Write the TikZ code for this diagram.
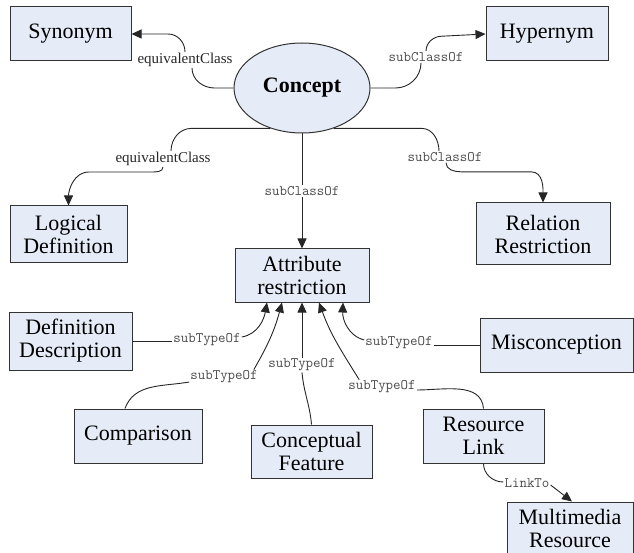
\documentclass[tikz,border=0pt]{standalone}
\usepackage{fontspec}
\setmainfont{Liberation Serif}
\usetikzlibrary{shapes.geometric,arrows.meta}
\definecolor{boxfill}{HTML}{E6ECF7}
\definecolor{boxline}{HTML}{333333}
\definecolor{lblgray}{HTML}{4A4A4A}

\begin{document}
\begin{tikzpicture}[x=1pt,y=1pt,
  box/.style={draw=boxline, line width=1pt, fill=boxfill, align=center,
    inner sep=0pt, font=\fontsize{22}{23}\selectfont},
  rel/.style={font=\ttfamily\fontsize{14.5}{14.5}\selectfont, text=lblgray, inner sep=1pt},
  relserif/.style={font=\fontsize{15}{15}\selectfont, text=black!85, inner sep=1pt},
  link/.style={draw=black!85, line width=0.9pt},
  tip/.style={-{Triangle[length=10pt,width=9pt]}},
]
\useasboundingbox (0,0) rectangle (634,-553);
\begin{scope}
\clip (0,0) rectangle (634,-553);

% concept and its related classes
\node[ellipse, draw=boxline, fill=boxfill, line width=1pt, minimum width=136pt,
  minimum height=90pt, inner sep=0pt, font=\bfseries\fontsize{22}{23}\selectfont]
  (concept) at (302,-88) {Concept};
\node[box, minimum width=121pt, minimum height=54pt] (syn) at (70.5,-34) {Synonym};
\node[box, minimum width=122pt, minimum height=54pt] (hyp) at (547,-34) {Hypernym};
\node[box, minimum width=117pt, minimum height=57pt] (logdef) at (68.5,-234.5) {Logical\\Definition};
\node[box, minimum width=134pt, minimum height=62pt] (relres) at (543,-234) {Relation\\Restriction};
\node[box, minimum width=134pt, minimum height=53pt] (attr) at (302,-275.5) {Attribute\\restriction};

% attribute subtypes
\node[box, minimum width=123pt, minimum height=58pt] (defdesc) at (70.5,-341) {Definition\\Description};
\node[box, minimum width=128pt, minimum height=54pt] (comp) at (138,-436) {Comparison};
\node[box, minimum width=121pt, minimum height=53pt] (concfeat) at (311.5,-451.5) {Conceptual\\Feature};
\node[box, minimum width=153pt, minimum height=54pt] (miscon) at (556.5,-345) {Misconception};
\node[box, minimum width=121pt, minimum height=54pt] (reslink) at (483.5,-436) {Resource\\Link};
\node[box, minimum width=126pt, minimum height=52pt] (multi) at (570,-528) {Multimedia\\Resource};

% relation labels
\node[relserif] (lsyn) at (185,-60) {equivalentClass};
\node[rel] (lhyp) at (426,-57) {subClassOf};
\node[relserif] (llog) at (163,-159) {equivalentClass};
\node[rel] (lrel) at (445,-157) {subClassOf};
\node[rel] (lattr) at (302,-191) {subClassOf};
\node[rel] (ldef) at (207,-340) {subTypeOf};
\node[rel] (lcomp) at (224,-377) {subTypeOf};
\node[rel] (lfeat) at (302,-365) {subTypeOf};
\node[rel] (lmis) at (399,-343) {subTypeOf};
\node[rel] (lres) at (382,-387) {subTypeOf};
\node[rel] (llink) at (527,-483) {LinkTo};

% concept -> synonym
\draw[link] (concept.west) -- ++(-19,0) to[out=180,in=-90] ([xshift=7pt]lsyn.south);
\draw[link,tip] (lsyn.north) to[out=90,in=0] ++(-17,18) -- (syn.east);
% concept -> hypernym
\draw[link] (concept.east) -- ++(25,0) to[out=0,in=-90] ([xshift=-5pt]lhyp.south);
\draw[link,tip] (lhyp.north) to[out=90,in=180] ++(16,15) -- (hyp.west);
% concept -> logical definition
\draw[link] (concept.232) -- ++(-79,0) to[out=180,in=90] ([xshift=8pt]llog.north);
\draw[link,tip] (llog.south) to[out=-90,in=0] ++(-12,-5) -- ++(-62,0)
  to[out=180,in=90] (logdef.north);
% concept -> relation restriction
\draw[link] (concept.308) -- ++(88,0) to[out=0,in=90] ([xshift=-6pt]lrel.north);
\draw[link,tip] ([xshift=1pt]lrel.south) to[out=-90,in=180] ++(15,-9) -- ++(70,0)
  to[out=0,in=90] (relres.north);
% concept -> attribute restriction
\draw[link] (concept.south) -- (lattr.north);
\draw[link,tip] (lattr.south) -- (attr.north);

% subtypes -> attribute restriction
\draw[link] (defdesc.east) -- (defdesc.east -| ldef.west);
\draw[link,tip] ([yshift=3pt]ldef.east) to[out=10,in=-100] ([xshift=-35pt]attr.south);
\draw[link] ([xshift=-13pt]comp.north) to[out=70,in=190] ([yshift=-5pt]lcomp.west);
\draw[link,tip] ([xshift=-5pt]lcomp.north east) to[out=60,in=-105] ([xshift=-20pt]attr.south);
\draw[link] (concfeat.north) to[out=95,in=-85] (lfeat.south);
\draw[link,tip] (lfeat.north) -- (attr.south);
\draw[link] (miscon.west) -- (miscon.west -| lmis.east);
\draw[link,tip] ([yshift=3pt]lmis.west) to[out=165,in=-92] ([xshift=41pt]attr.south);
\draw[link] (reslink.north) to[out=95,in=0] ([yshift=-3pt]lres.east);
\draw[link,tip] ([xshift=12pt]lres.north west) to[out=122,in=-70] ([xshift=17pt]attr.south);

% resource link -> multimedia resource
\draw[link] (reslink.south) to[out=-90,in=180] ([yshift=1pt]llink.west);
\draw[link,tip] ([yshift=-2pt]llink.east) -- ([xshift=2pt]multi.north);
\end{scope}
\end{tikzpicture}
\end{document}
